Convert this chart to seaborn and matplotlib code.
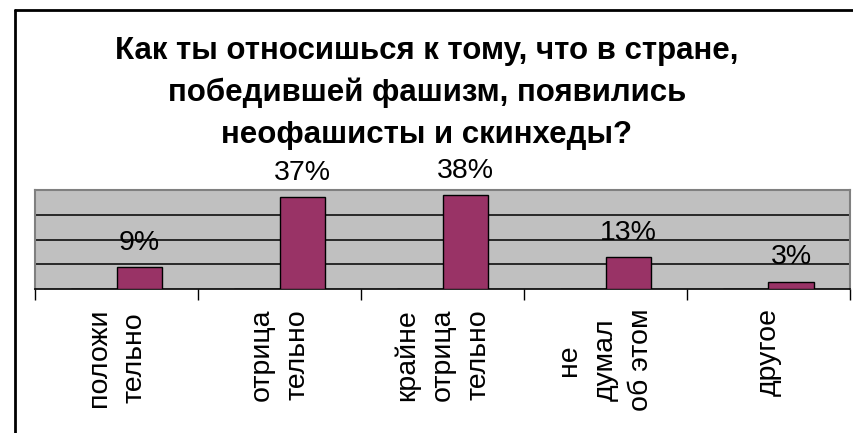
# -*- coding: utf-8 -*-
"""
Столбчатая диаграмма опроса в стиле Excel
"""

import matplotlib
matplotlib.use('Agg')
import matplotlib.pyplot as plt
import seaborn as sns
import pandas as pd
from matplotlib.lines import Line2D

categories = ["положи\nтельно", "отрица\nтельно", "крайне\nотрица\nтельно",
              "не\nдумал\nоб этом", "другое"]
values = [0.09, 0.37, 0.38, 0.13, 0.03]
title = "Как ты относишься к тому, что в стране,\nпобедившей фашизм, появились\nнеофашисты и скинхеды?"

BAR = '#993366'
PLOT_BG = '#C0C0C0'

sns.set_theme(style='white')
plt.rcParams['font.family'] = ['Liberation Sans', 'DejaVu Sans']
plt.rcParams['text.color'] = 'black'
plt.rcParams['xtick.color'] = 'black'
plt.rcParams['xtick.labelcolor'] = 'black'

# пустая первая серия, как в исходной диаграмме (столбцы смещены вправо)
df = pd.DataFrame({
    'cat': categories * 2,
    'val': [0.0] * len(values) + values,
    'series': ['пусто'] * len(values) + ['ответы'] * len(values),
})

W, H = 854, 433
fig = plt.figure(figsize=(W / 100, H / 100), dpi=100)
ax = fig.add_axes([35 / W, 1 - 289 / H, (850 - 35) / W, (289 - 190) / H])
ax.set_facecolor(PLOT_BG)

sns.barplot(data=df, x='cat', y='val', hue='series', hue_order=['пусто', 'ответы'],
            palette={'пусто': BAR, 'ответы': BAR}, saturation=1, width=0.56,
            dodge=True, edgecolor='black', linewidth=1, legend=False, ax=ax, zorder=3)

ax.bar_label(ax.containers[1], labels=[f"{v:.0%}" for v in values],
             padding=8, fontsize=20.5, color='black', zorder=4)

ax.set_ylim(0, 0.4)
ax.set_xlim(-0.5, len(categories) - 0.5)
ax.set_yticks([0.1, 0.2, 0.3])
ax.yaxis.grid(True, color='black', linewidth=1.1)
ax.set_axisbelow(True)
ax.tick_params(axis='y', left=False, labelleft=False)

# деления на границах категорий, подписи по центрам
ax.set_xticks([i - 0.5 for i in range(len(categories) + 1)])
ax.set_xticklabels([])
ax.set_xticks(range(len(categories)), minor=True)
ax.set_xticklabels(categories, minor=True, rotation=90, fontsize=20.5,
                   linespacing=1.5)
ax.tick_params(axis='x', which='major', length=8, width=1, color='black', bottom=True)
ax.tick_params(axis='x', which='minor', length=0, pad=14)
for lab in ax.get_xticklabels(minor=True):
    lab.set_multialignment('center')
    lab.set_verticalalignment('top')
ax.set_xlabel('')
ax.set_ylabel('')

for side in ['top', 'left', 'right']:
    ax.spines[side].set_color('#808080')
    ax.spines[side].set_linewidth(1.5)
ax.spines['bottom'].set_color('black')
ax.spines['bottom'].set_linewidth(1.2)

fig.text(0.5, 1 - 36 / H, title, ha='center', va='top', fontsize=22.5,
         fontweight='bold', linespacing=1.5, color='black')

# рамка области диаграммы
fig.add_artist(Line2D([15 / W, 15 / W], [0, 1 - 10 / H], color='black', linewidth=2))
fig.add_artist(Line2D([15 / W, 1], [1 - 10 / H, 1 - 10 / H], color='black', linewidth=2))

fig.savefig('out.png', dpi=100)
